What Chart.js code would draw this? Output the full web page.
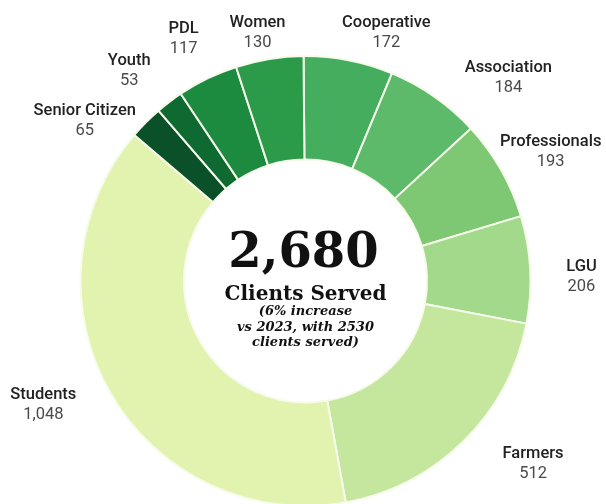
<!DOCTYPE html>
<html>
<head>
<meta charset="utf-8">
<script src="https://cdn.jsdelivr.net/npm/chart.js@4/dist/chart.umd.min.js"></script>
<style>
  html, body { margin: 0; padding: 0; background: #ffffff; }
  #wrap { position: relative; width: 606px; height: 504px; overflow: hidden; }
  #c { display: block; }
</style>
</head>
<body>
<div id="wrap"><canvas id="c" width="606" height="520"></canvas></div>
<script>
// ---- data ----
const categories = ["Cooperative", "Association", "Professionals", "LGU", "Farmers", "Students", "Senior Citizen", "Youth", "PDL", "Women"];
const clients = [172, 184, 193, 206, 512, 1048, 65, 53, 117, 130];
const totalClients = 2680;
const centerTitle = "Clients Served";
const centerNote = ["(6% increase", "vs 2023, with 2530", "clients served)"];

// ---- styles ----
const sliceColors = ["#45ad5e", "#5eba6b", "#7ec874", "#a3d98a", "#c5e79d", "#e2f3b0", "#0a5028", "#0f6a32", "#1c8a3f", "#2b9b49"];
// label placement (angle shift in degrees, distance beyond outer edge in px), like datalabels align/offset
const labelAlign = [7, 10, 2, 2, -6.5, 4.6, -8.8, -2.8, -0.9, -1.7];
const labelOffset = [36, 62, 52, 51, 67, 65, 48, 49, 46, 28];

const fmt = v => v.toLocaleString("en-US");

const outLabels = {
  id: "outLabels",
  afterDatasetsDraw(chart) {
    const ctx = chart.ctx;
    const meta = chart.getDatasetMeta(0);
    ctx.save();
    ctx.textAlign = "center";
    ctx.textBaseline = "middle";
    meta.data.forEach((arc, i) => {
      const p = arc.getProps(["x", "y", "startAngle", "endAngle", "outerRadius"], true);
      const mid = (p.startAngle + p.endAngle) / 2 + labelAlign[i] * Math.PI / 180;
      const d = p.outerRadius + labelOffset[i];
      const x = p.x + Math.cos(mid) * d;
      const y = p.y + Math.sin(mid) * d;
      ctx.fillStyle = "#222222";
      ctx.font = "500 16.5px Roboto";
      ctx.fillText(categories[i], x, y - 10);
      ctx.fillStyle = "#4a4a4a";
      ctx.font = "400 16.5px Roboto";
      ctx.fillText(fmt(clients[i]), x, y + 10);
    });
    ctx.restore();
  },
  afterDraw(chart) {
    const ctx = chart.ctx;
    const arc = chart.getDatasetMeta(0).data[0];
    const cx = arc.x, cy = arc.y;
    ctx.save();
    ctx.textAlign = "center";
    ctx.textBaseline = "alphabetic";
    ctx.fillStyle = "#111111";
    ctx.font = "bold 48px 'DejaVu Serif'";
    ctx.fillText(fmt(totalClients), cx - 2, cy - 14);
    ctx.font = "bold 20px 'DejaVu Serif'";
    ctx.fillText(centerTitle, cx, cy + 19);
    ctx.font = "italic bold 13px 'DejaVu Serif'";
    centerNote.forEach((t, k) => ctx.fillText(t, cx, cy + 34 + k * 15.5));
    ctx.restore();
  }
};

new Chart(document.getElementById("c"), {
  type: "doughnut",
  data: {
    labels: categories,
    datasets: [{
      data: clients,
      backgroundColor: sliceColors,
      borderColor: "#f6fbec",
      borderWidth: 2,
      hoverOffset: 0,
      radius: 225,
      cutout: "54%"
    }]
  },
  options: {
    responsive: false,
    animation: false,
    events: [],
    rotation: -0.5,
    cutout: "54%",
    layout: { padding: { left: 80, right: 75, top: 56, bottom: 14 } },
    plugins: {
      legend: { display: false },
      tooltip: { enabled: false }
    }
  },
  plugins: [outLabels]
});
</script>
</body>
</html>
